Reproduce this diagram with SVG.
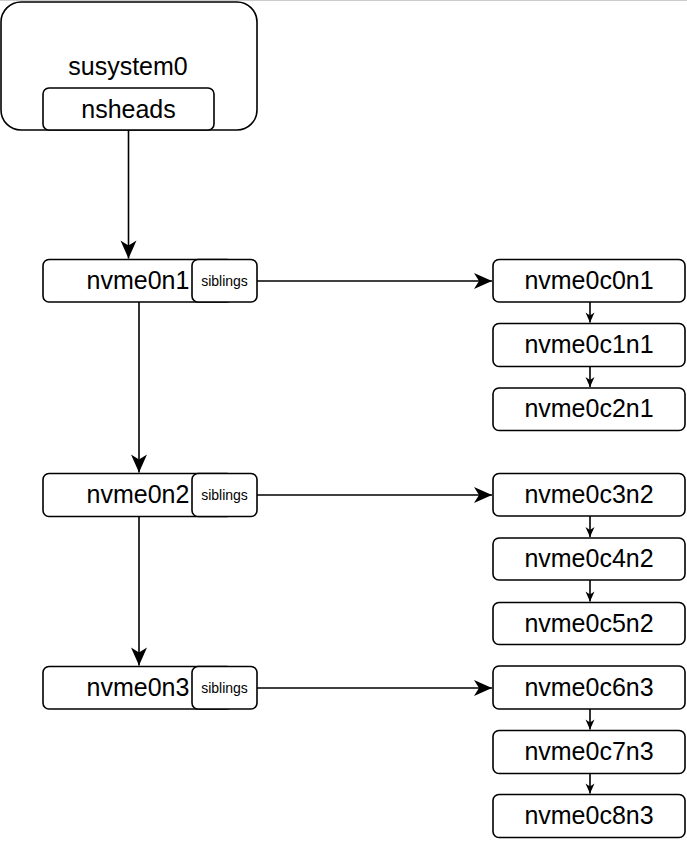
<svg xmlns="http://www.w3.org/2000/svg" width="687" height="842" viewBox="0 0 687 842">
<style>
.box{fill:#fff;stroke:#000;stroke-width:1.6}
.t{font-family:"Liberation Sans",Arial,sans-serif;font-size:25px;fill:#000;text-anchor:middle}
.s{font-family:"Liberation Sans",Arial,sans-serif;font-size:14px;fill:#000;text-anchor:middle}
.c{fill:none;stroke:#000;stroke-width:1.6}
</style>
<defs>
<marker id="big" markerUnits="userSpaceOnUse" viewBox="-20 -10 22 20" refX="0" refY="0" markerWidth="22" markerHeight="20" orient="auto" overflow="visible">
<path d="M0 0 L-18 -8 L-13 0 L-18 8 Z" fill="#000"/>
</marker>
<marker id="small" markerUnits="userSpaceOnUse" viewBox="-12 -6 14 12" refX="0" refY="0" markerWidth="14" markerHeight="12" orient="auto" overflow="visible">
<path d="M0 0 L-10 -4.5 L-7 0 L-10 4.5 Z" fill="#000"/>
</marker>
</defs>
<rect width="687" height="842" fill="#fff"/>
<line x1="0" y1="0.5" x2="687" y2="0.5" stroke="#cccccc" stroke-width="1"/>

<g id="subsystem0">
<rect class="box" x="1" y="2" width="256" height="128" rx="20"/>
<text class="t" x="128" y="75">susystem0</text>
</g>
<g id="nsheads">
<rect class="box" x="43" y="88" width="171" height="42" rx="6"/>
<text class="t" x="128.5" y="118">nsheads</text>
</g>

<g id="nvme0n1">
<rect class="box" x="43" y="259.5" width="190" height="42.5" rx="6"/>
<text class="t" x="138" y="289">nvme0n1</text>
<rect class="box" x="192" y="259.5" width="65" height="42.5" rx="6"/>
<text class="s" x="224.5" y="286">siblings</text>
</g>
<g id="nvme0n2">
<rect class="box" x="43" y="473.5" width="190" height="43" rx="6"/>
<text class="t" x="138" y="503">nvme0n2</text>
<rect class="box" x="192" y="473.5" width="65" height="43" rx="6"/>
<text class="s" x="224.5" y="500">siblings</text>
</g>
<g id="nvme0n3">
<rect class="box" x="43" y="666.5" width="190" height="42.5" rx="6"/>
<text class="t" x="138" y="696">nvme0n3</text>
<rect class="box" x="192" y="666.5" width="65" height="42.5" rx="6"/>
<text class="s" x="224.5" y="693">siblings</text>
</g>

<g id="nvme0c0n1"><rect class="box" x="493" y="259.5" width="192" height="42.5" rx="6"/><text class="t" x="589" y="289">nvme0c0n1</text></g>
<g id="nvme0c1n1"><rect class="box" x="493" y="323.5" width="192" height="43" rx="6"/><text class="t" x="589" y="353">nvme0c1n1</text></g>
<g id="nvme0c2n1"><rect class="box" x="493" y="388" width="192" height="42.5" rx="6"/><text class="t" x="589" y="417">nvme0c2n1</text></g>

<g id="nvme0c3n2"><rect class="box" x="493" y="473.5" width="192" height="42.5" rx="6"/><text class="t" x="589" y="503">nvme0c3n2</text></g>
<g id="nvme0c4n2"><rect class="box" x="493" y="538" width="192" height="42" rx="6"/><text class="t" x="589" y="567">nvme0c4n2</text></g>
<g id="nvme0c5n2"><rect class="box" x="493" y="602.5" width="192" height="42" rx="6"/><text class="t" x="589" y="632">nvme0c5n2</text></g>

<g id="nvme0c6n3"><rect class="box" x="493" y="666" width="192" height="43" rx="6"/><text class="t" x="589" y="696">nvme0c6n3</text></g>
<g id="nvme0c7n3"><rect class="box" x="493" y="730.5" width="192" height="43" rx="6"/><text class="t" x="589" y="760">nvme0c7n3</text></g>
<g id="nvme0c8n3"><rect class="box" x="493" y="794.5" width="192" height="43" rx="6"/><text class="t" x="589" y="824">nvme0c8n3</text></g>

<g id="connectors">
<line class="c" x1="128.5" y1="130" x2="128.5" y2="258.5" marker-end="url(#big)"/>
<line class="c" x1="139" y1="302" x2="139" y2="472.5" marker-end="url(#big)"/>
<line class="c" x1="139" y1="516.5" x2="139" y2="665.5" marker-end="url(#big)"/>
<line class="c" x1="257" y1="281" x2="492" y2="281" marker-end="url(#big)"/>
<line class="c" x1="257" y1="495" x2="492" y2="495" marker-end="url(#big)"/>
<line class="c" x1="257" y1="688" x2="492" y2="688" marker-end="url(#big)"/>
<line class="c" x1="590" y1="302" x2="590" y2="322.5" marker-end="url(#small)"/>
<line class="c" x1="590" y1="366.5" x2="590" y2="387" marker-end="url(#small)"/>
<line class="c" x1="590" y1="516" x2="590" y2="537" marker-end="url(#small)"/>
<line class="c" x1="590" y1="580" x2="590" y2="601.5" marker-end="url(#small)"/>
<line class="c" x1="590" y1="709" x2="590" y2="729.5" marker-end="url(#small)"/>
<line class="c" x1="590" y1="773.5" x2="590" y2="793.5" marker-end="url(#small)"/>
</g>
</svg>
